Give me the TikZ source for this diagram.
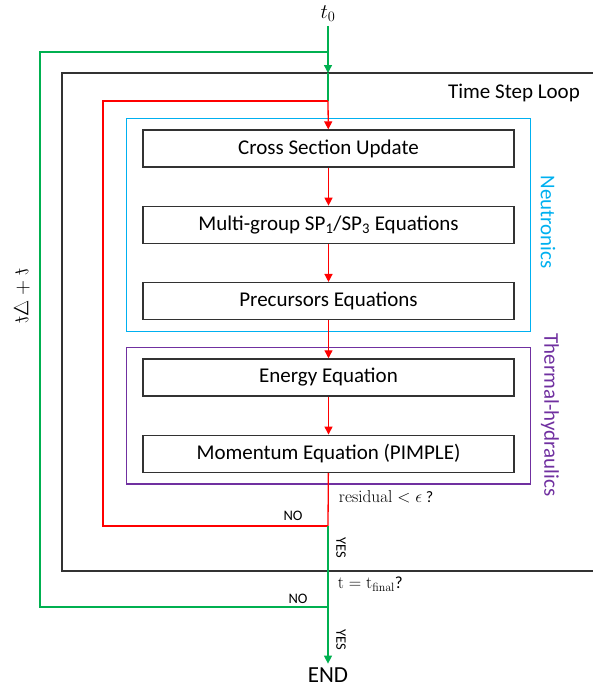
\documentclass[tikz,border=0pt]{standalone}
\usepackage[no-math]{fontspec}
\setmainfont{Carlito}
\usepackage{amsmath}
\usetikzlibrary{arrows.meta,positioning,calc,fit}

\definecolor{tsred}{RGB}{255,0,0}
\definecolor{tsgreen}{RGB}{0,176,80}
\definecolor{tsblue}{RGB}{0,176,240}
\definecolor{tspurple}{RGB}{112,48,160}
\definecolor{tsgray}{RGB}{50,50,50}

\begin{document}
\begin{tikzpicture}[x=1pt, y=-1pt, node distance=38pt,
    >={Triangle[length=8pt,width=8pt]},
    every node/.style={font=\fontsize{21}{25}\selectfont},
    eqbox/.style={draw=tsgray, line width=1.3pt, minimum width=371pt, minimum height=37pt, inner sep=0pt},
    frame/.style={draw, line width=1.4pt, inner xsep=16pt, inner ysep=11pt},
    small/.style={font=\fontsize{14.5}{17}\selectfont},
    cond/.style={font=\fontsize{16}{19}\selectfont, anchor=west},
    every path/.style={line width=1.3pt}]
    \useasboundingbox (0,0) rectangle (593,689);

    % equations
    \node (cs) [eqbox] at (328.5,148.5) {Cross Section Update};
    \node (mg) [eqbox, below=of cs] {Multi-group SP\textsubscript{1}/SP\textsubscript{3} Equations};
    \node (pe) [eqbox, below=of mg] {Precursors Equations};
    \node (en) [eqbox, below=of pe] {Energy Equation};
    \node (mo) [eqbox, below=of en] {Momentum Equation (PIMPLE)};

    % frames
    \node (neu) [frame, draw=tsblue, fit=(cs)(pe)] {};
    \node (th) [frame, draw=tspurple, fit=(en)(mo)] {};
    \node (neulab) [rotate=-90, text=tsblue] at (548,222) {Neutronics};
    \node (thlab) [rotate=-90, text=tspurple] at (550,415) {Thermal-hydraulics};

    % time step loop
    \draw[tsgray] (593,73) -- (62,73) -- (62,571) -- (593,571);
    \node (tsl) at (514,93) {Time Step Loop};

    \node (t0) at (328,14) {$t_0$};
    \node (end) [font=\fontsize{23}{27}\selectfont] at (328,675) {END};
    \node (dt) [rotate=-90, yscale=-1] at (22,296) {$t+\Delta t$};

    \coordinate (gin) at (328,73);
    \coordinate (gtop) at (328,52);
    \coordinate (rtop) at (328,101);
    \coordinate (rno) at (328,526);
    \coordinate (gno) at (328,607);
    \coordinate (rleft) at (103,300);
    \coordinate (gleft) at (40,300);

    % conditions
    \node (res) [cond] at (335,497) {$\mathrm{residual} < \epsilon$ ?};
    \node (tfin) [cond, font=\fontsize{17}{20}\selectfont] at (334,584) {$\mathrm{t} = \mathrm{t}_{\mathrm{final}}$?};
    \node (no1) [small] at (293,516) {NO};
    \node (no2) [small] at (298,599) {NO};
    \node (yes1) [small, rotate=-90] at (341,548) {YES};
    \node (yes2) [small, rotate=-90] at (341,640) {YES};

    % outer loop
    \draw[tsgreen,->] (t0) -- (gin);
    \draw[tsgreen] (gin) -- (rtop);
    \draw[tsgreen] (gno) -| (gleft) |- (gtop);

    % inner loop
    \draw[tsred] (rno) -| (rleft) |- (rtop);
    \draw[tsred,->] (rtop) -- (cs);
    \draw[tsred,->] (cs) -- (mg);
    \draw[tsred,->] (mg) -- (pe);
    \draw[tsred,->] (pe) -- (en);
    \draw[tsred,->] (en) -- (mo);
    \draw[tsred] (mo) -- (rno);
    \draw[tsgreen,->] (rno) -- (end);
\end{tikzpicture}
\end{document}
